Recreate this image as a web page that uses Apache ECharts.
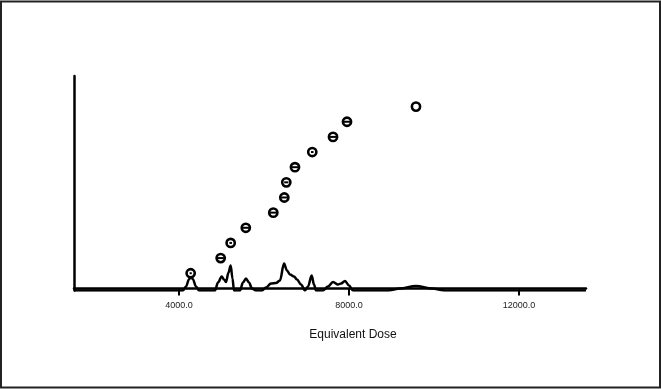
<!DOCTYPE html>
<html><head><meta charset="utf-8">
<script src="https://cdn.jsdelivr.net/npm/echarts@6/dist/echarts.min.js"></script>
<style>html,body{margin:0;padding:0;background:#fff}#c{width:661px;height:389px}</style>
</head><body><div id="c"></div>
<script>
// Equivalent dose estimates, ranked
const doses = [4275, 4981, 5216, 5572, 6219, 6478, 6525, 6729, 7136, 7624, 7953, 9576];
const ranks = [1, 2, 3, 4, 5, 6, 7, 8, 9, 10, 11, 12];
const doseErrors = [25, 75, 30, 75, 75, 75, 50, 75, 30, 75, 75, 0];
// Density curve (dose, relative density)
const curveDose = [1530, 4094, 4165, 4235, 4282, 4329, 4400, 4470, 4847, 4918, 5005, 5059, 5106, 5165, 5216, 5259, 5294, 5435, 5506, 5576, 5647, 5718, 5812, 5953, 6047, 6165, 6282, 6376, 6471, 6541, 6612, 6706, 6776, 6871, 6965, 7035, 7122, 7176, 7224, 7388, 7506, 7624, 7741, 7812, 7906, 8000, 8094, 8918, 9200, 9576, 9953, 10259, 13576];
const curveDensity = [0, 0, 4, 11, 15, 11, 4, 0, 0, 8, 14, 11, 8.5, 18, 25, 12, 0, 0, 8, 12, 8, 2, 0, 0, 3, 7, 7.5, 10, 27, 20, 16, 14, 11, 6, 0, 4, 15, 6, 0, 0, 4, 8.5, 6, 7, 9.5, 5, 0, 0, 2, 4.5, 2, 0, 0];
const tickValues = [4000, 8000, 12000];
const xLabel = 'Equivalent Dose';

const chart = echarts.init(document.getElementById('c'), null, {renderer: 'canvas'});
const pts = doses.map((d, i) => [d, ranks[i], doseErrors[i]]);
const curve = curveDose.map((d, i) => [d, curveDensity[i]]);
chart.setOption({
  animation: false,
  backgroundColor: '#fff',
  grid: {left: 74, right: 75, top: 76, bottom: 98.5},
  xAxis: {
    type: 'value', min: 1530, max: 13576,
    splitLine: {show: false},
    axisLine: {lineStyle: {color: '#000', width: 2.5}},
    axisTick: {show: true, customValues: tickValues, length: 7, lineStyle: {color: '#000', width: 2}},
    axisLabel: {customValues: tickValues, formatter: v => v.toFixed(1), color: '#222', fontSize: 9, fontFamily: 'Liberation Sans, Arial, sans-serif', margin: 11}
  },
  yAxis: [{
    type: 'value', min: -0.14, max: 14.02,
    splitLine: {show: false},
    axisLine: {show: true, lineStyle: {color: '#000', width: 2.5}},
    axisTick: {show: false}, axisLabel: {show: false}
  }, {
    type: 'value', min: 0, max: 214.5, show: false, splitLine: {show: false}
  }],
  series: [{
    type: 'line', yAxisIndex: 1, data: curve, smooth: 0.35, smoothMonotone: 'x', symbol: 'none',
    lineStyle: {color: '#000', width: 2.5}, z: 2
  }, {
    type: 'custom', yAxisIndex: 0, data: pts, z: 5,
    renderItem: function (params, api) {
      const c = api.coord([api.value(0), api.value(1)]);
      const e = api.value(2);
      const l = api.coord([api.value(0) - e, api.value(1)]);
      const r = api.coord([api.value(0) + e, api.value(1)]);
      const children = [{
        type: 'circle', shape: {cx: c[0], cy: c[1], r: 4.1},
        style: {fill: '#fff', stroke: '#000', lineWidth: 2.6}
      }];
      if (e > 0) children.push({
        type: 'line', shape: {x1: l[0], y1: c[1], x2: r[0], y2: c[1]},
        style: {stroke: '#000', lineWidth: 2}
      });
      return {type: 'group', children: children};
    }
  }],
  graphic: [{
    type: 'rect', shape: {x: 1, y: 1.5, width: 659, height: 386},
    style: {fill: null, stroke: '#222', lineWidth: 2}, silent: true
  }, {
    type: 'text', x: 353, y: 335,
    style: {text: xLabel, fill: '#111', font: '12px "Liberation Sans", Arial, sans-serif', textAlign: 'center', textVerticalAlign: 'middle'}
  }]
});
</script></body></html>
